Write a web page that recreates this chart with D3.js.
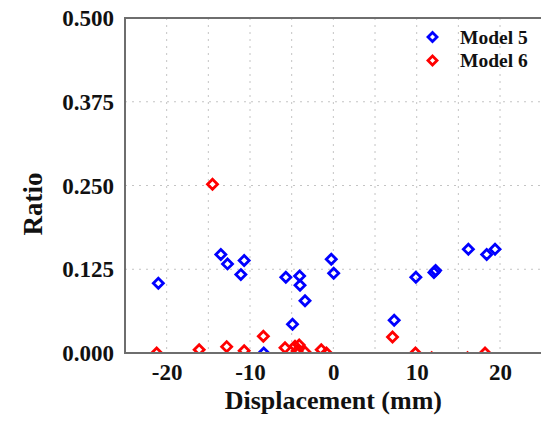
<!DOCTYPE html>
<html>
<head>
<meta charset="utf-8">
<script src="https://cdn.jsdelivr.net/npm/d3@7"></script>
<style>
  html, body { margin: 0; padding: 0; background: #fff; }
  svg { display: block; }
  text { font-family: "Liberation Serif", "Times New Roman", serif; font-weight: bold; fill: #111; }
</style>
</head>
<body>
<svg id="chart" width="541" height="422"></svg>
<script>
// Displacement (mm) and ratio for each model
const model5X = [-21.0, -13.5, -12.7, -10.7, -11.1, -8.35, -5.7, -4.05, -4.0, -3.4, -4.9, -0.25, 0.04, 7.3, 9.9, 12.07, 12.27, 16.2, 18.4, 19.4];
const model5Y = [0.104, 0.147, 0.133, 0.138, 0.117, 0.0, 0.113, 0.115, 0.101, 0.078, 0.043, 0.140, 0.119, 0.049, 0.113, 0.120, 0.123, 0.155, 0.147, 0.155];
const model6X = [-14.5, -21.2, -16.1, -12.8, -10.7, -8.4, -5.8, -4.6, -4.1, -4.35, -3.4, -1.45, -0.83, 7.1, 9.85, 11.8, 16.1, 18.2];
const model6Y = [0.252, 0.0, 0.005, 0.0095, 0.0035, 0.025, 0.008, 0.010, 0.012, 0.003, 0.0015, 0.005, 0.0, 0.024, 0.0, -0.007, -0.007, 0.0];

const xTicks = [-20, -10, 0, 10, 20];
const yTicks = [0, 0.125, 0.25, 0.375, 0.5];
const xGrid = [-20, -15, -10, -5, 0, 5, 10, 15, 20];
const seriesNames = ["Model 5", "Model 6"];
const seriesColors = ["#0000ff", "#ff0000"];

const svg = d3.select("#chart");
const plotL = 125, plotR = 541.7, plotT = 18, plotB = 353;

const x = d3.scaleLinear().domain([-25, 25]).range([plotL, plotR]);
const y = d3.scaleLinear().domain([0, 0.5]).range([plotB, plotT]);

// dotted grid
const grid = svg.append("g").attr("stroke", "#c4c4c4").attr("stroke-width", 1).attr("stroke-dasharray", "2,5");
grid.selectAll("line.v").data(xGrid).join("line").attr("class", "v")
  .attr("x1", d => x(d)).attr("x2", d => x(d)).attr("y1", plotT).attr("y2", plotB);
grid.selectAll("line.h").data(yTicks.slice(1, -1)).join("line").attr("class", "h")
  .attr("x1", plotL).attr("x2", plotR).attr("y1", d => y(d)).attr("y2", d => y(d));

// clip markers to the plotting frame
svg.append("clipPath").attr("id", "plotClip").append("rect")
  .attr("x", plotL).attr("y", plotT).attr("width", plotR - plotL).attr("height", plotB - plotT);

function diamondPath(r) {
  return `M0,${-r}L${r},0L0,${r}L${-r},0Z`;
}

const series = [
  d3.zip(model5X, model5Y),
  d3.zip(model6X, model6Y)
];

const pts = svg.append("g").attr("clip-path", "url(#plotClip)");
series.forEach((s, i) => {
  pts.append("g").selectAll("path").data(s).join("path")
    .attr("d", diamondPath(5))
    .attr("transform", d => `translate(${x(d[0])},${y(d[1])})`)
    .attr("fill", "none")
    .attr("stroke", seriesColors[i])
    .attr("stroke-width", 2.8);
});

// frame
svg.append("path")
  .attr("d", `M${plotR},${plotT}H${plotL}V${plotB}H${plotR}`)
  .attr("fill", "none").attr("stroke", "#6e6e6e").attr("stroke-width", 2);

// x axis labels
const xAxis = d3.axisBottom(x).tickValues(xTicks).tickSize(0).tickPadding(0).tickFormat(d3.format("d"));
const gx = svg.append("g").attr("transform", `translate(0,${plotB})`).call(xAxis);
gx.select(".domain").remove();
gx.selectAll("text").attr("dy", null).attr("y", 27)
  .style("font-family", "Liberation Serif").style("font-weight", "bold").style("font-size", "23px").attr("fill", "#111")
  .text(d => d < 0 ? "-" + Math.abs(d) : d);

// y axis labels
const yAxis = d3.axisLeft(y).tickValues(yTicks).tickSize(0).tickPadding(0).tickFormat(d3.format(".3f"));
const gy = svg.append("g").attr("transform", `translate(${plotL - 11},0)`).call(yAxis);
gy.select(".domain").remove();
gy.selectAll("text").attr("dy", "0.33em")
  .style("font-family", "Liberation Serif").style("font-weight", "bold").style("font-size", "23px").attr("fill", "#111");

// axis titles
svg.append("text").attr("x", x(0)).attr("y", 409).attr("text-anchor", "middle")
  .style("font-size", "26px").text("Displacement (mm)");
svg.append("text").attr("transform", `translate(42,204) rotate(-90)`).attr("text-anchor", "middle")
  .style("font-size", "27px").text("Ratio");

// legend
const legend = svg.append("g");
seriesNames.forEach((name, i) => {
  const ly = 37 + i * 23.5;
  legend.append("path").attr("d", diamondPath(4.5))
    .attr("transform", `translate(432.5,${ly})`)
    .attr("fill", "none").attr("stroke", seriesColors[i]).attr("stroke-width", 2.8);
  legend.append("text").attr("x", 460).attr("y", ly + 6.5).style("font-size", "19.5px").text(name);
});
</script>
</body>
</html>
